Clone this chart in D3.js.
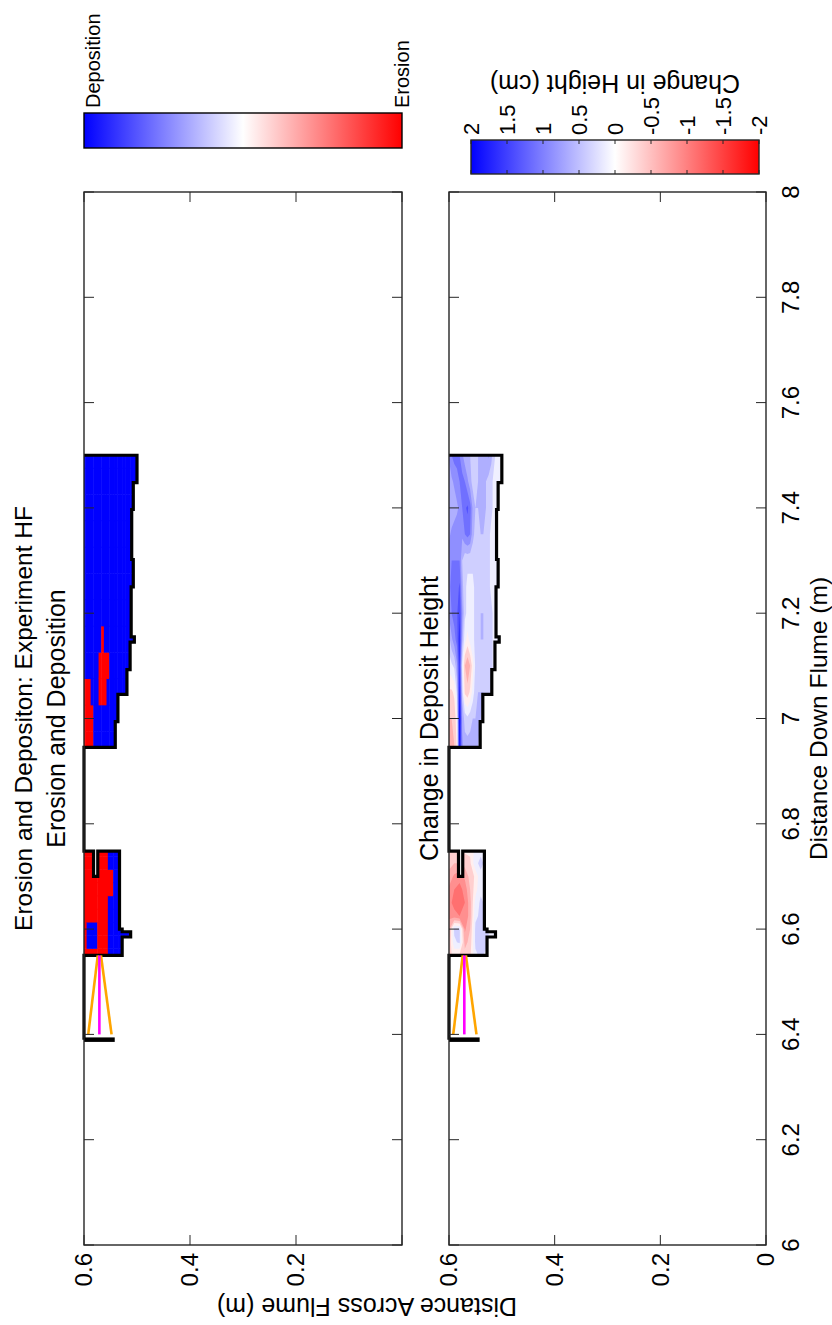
<!DOCTYPE html>
<html>
<head>
<meta charset="utf-8">
<script src="https://cdn.jsdelivr.net/npm/d3@7"></script>
<style>
  body { margin: 0; background: #fff; }
  svg { display: block; }
  text { font-family: "Liberation Sans", Arial, sans-serif; fill: #000; }
</style>
</head>
<body>
<svg id="fig" width="832" height="1325"></svg>
<script>
// ---- axis ticks ----
const downTicks = [6, 6.2, 6.4, 6.6, 6.8, 7, 7.2, 7.4, 7.6, 7.8, 8];
const downTickLabels = ["6", "6.2", "6.4", "6.6", "6.8", "7", "7.2", "7.4", "7.6", "7.8", "8"];
const acrossTicks = [0, 0.2, 0.4, 0.6];
const topAcrossLabels = [[0.6, "0.6"], [0.4, "0.4"], [0.2, "0.2"]];
const bottomAcrossLabels = [[0.6, "0.6"], [0.4, "0.4"], [0.2, "0.2"], [0, "0"]];
const colorbarTicks = [2, 1.5, 1, 0.5, 0, -0.5, -1, -1.5, -2];

// ---- downstream deposit (grid of height change, cm) ----
const deposit2Down = [6.95, 7.0, 7.05, 7.1, 7.15, 7.2, 7.25, 7.3, 7.35, 7.4, 7.45, 7.5];
const deposit2Across = [0.6, 0.595, 0.59, 0.585, 0.58, 0.575, 0.57, 0.565, 0.56, 0.555, 0.55,
                        0.545, 0.54, 0.535, 0.53, 0.525, 0.52, 0.515, 0.51, 0.505, 0.5];
const deposit2Change = [
  [-0.6, -0.5, -0.3, 0.1, 0.4, 0.8, 0.9, 0.9, 0.7, 0.5, 0.5, 0.8],
  [-0.6, -0.5, -0.3, 0.2, 0.7, 1.0, 1.1, 1.0, 0.8, 0.6, 0.7, 1.0],
  [-0.5, -0.4, -0.2, 0.3, 0.9, 1.1, 1.1, 1.0, 0.9, 0.6, 0.8, 1.1],
  [-0.2, -0.1, 0.3, 0.7, 1.1, 1.2, 1.1, 1.0, 0.9, 0.7, 0.9, 1.1],
  [1.9, 2.0, 1.8, 1.6, 1.7, 1.5, 1.3, 1.0, 0.9, 0.8, 1.0, 1.0],
  [0.8, 0.7, 0.4, 0.2, 0.6, 0.8, 0.6, 0.5, 0.8, 1.0, 1.1, 0.8],
  [0.6, 0.4, -0.3, -0.5, 0.1, 0.3, 0.3, 0.3, 1.0, 1.2, 1.0, 0.6],
  [0.6, 0.3, -0.4, -0.7, -0.1, 0.2, 0.2, 0.3, 1.1, 1.3, 0.8, 0.5],
  [0.6, 0.4, -0.2, -0.5, 0.1, 0.2, 0.2, 0.3, 1.0, 1.1, 0.6, 0.5],
  [0.5, 0.5, 0.1, -0.1, 0.2, 0.2, 0.2, 0.3, 0.6, 0.7, 0.4, 0.4],
  [0.5, 0.5, 0.4, 0.3, 0.3, 0.3, 0.3, 0.3, 0.4, 0.5, 0.3, 0.3],
  [0.5, 0.5, 0.5, 0.4, 0.4, 0.4, 0.3, 0.3, 0.4, 0.5, 0.5, 0.5],
  [0.4, 0.5, 0.5, 0.4, 0.5, 0.5, 0.3, 0.4, 0.5, 0.6, 0.6, 0.5],
  [0.3, 0.4, 0.5, 0.4, 0.5, 0.5, 0.3, 0.4, 0.5, 0.6, 0.6, 0.5],
  [0.3, 0.3, 0.4, 0.4, 0.4, 0.4, 0.3, 0.3, 0.4, 0.5, 0.5, 0.6],
  [0.2, 0.3, 0.3, 0.4, 0.4, 0.4, 0.3, 0.3, 0.3, 0.4, 0.4, 0.8],
  [0.2, 0.2, 0.3, 0.3, 0.3, 0.3, 0.2, 0.2, 0.2, 0.3, 0.3, 0.6],
  [0.1, 0.2, 0.2, 0.2, 0.2, 0.2, 0.2, 0.2, 0.2, 0.2, 0.2, 0.3],
  [0.1, 0.1, 0.1, 0.1, 0.1, 0.1, 0.1, 0.1, 0.1, 0.1, 0.1, 0.2],
  [0.1, 0.1, 0.1, 0.1, 0.1, 0.1, 0.1, 0.1, 0.1, 0.1, 0.1, 0.1],
  [0.1, 0.1, 0.1, 0.1, 0.1, 0.1, 0.1, 0.1, 0.1, 0.1, 0.1, 0.1]
];

// ---- upstream deposit ----
const deposit1Down = [6.55, 6.575, 6.6, 6.625, 6.65, 6.675, 6.7, 6.725, 6.75];
const deposit1Across = [0.6, 0.59, 0.58, 0.57, 0.56, 0.55, 0.54, 0.53, 0.52, 0.51];
const deposit1Change = [
  [-0.3, -0.5, -0.6, -0.8, -0.9, -0.8, -0.6, -0.4, -0.3],
  [-0.2, 0.2, 0.3, -0.9, -1.1, -1.0, -0.8, -0.5, -0.3],
  [-0.3, 0.3, 0.3, -1.0, -1.2, -1.1, -0.9, -0.5, -0.3],
  [-0.4, -0.6, -0.8, -1.0, -1.0, -0.9, -0.7, -0.4, -0.2],
  [-0.3, -0.4, -0.5, -0.6, -0.6, -0.5, -0.4, -0.3, -0.2],
  [0.2, 0.3, 0.3, 0.2, 0.1, -0.1, -0.2, 0.2, 0.1],
  [0.3, 0.4, 0.4, 0.3, 0.3, 0.2, 0.2, 0.3, 0.2],
  [0.2, 0.3, 0.3, 0.3, 0.2, 0.2, 0.2, 0.2, 0.1],
  [0.1, 0.2, 0.2, 0.1, 0.1, 0.1, 0.1, 0.1, 0.1],
  [0.1, 0.1, 0.1, 0.1, 0.1, 0.1, 0.1, 0.1, 0.1]
];

// ---- deposit boundaries [down, across] ----
const deposit2Edge = [[7.5, 0.6], [7.5, 0.5], [7.448, 0.5], [7.448, 0.507], [7.397, 0.507],
  [7.397, 0.510], [7.302, 0.510], [7.302, 0.507], [7.25, 0.507], [7.25, 0.511], [7.155, 0.511],
  [7.155, 0.505], [7.145, 0.505], [7.145, 0.513], [7.093, 0.513], [7.093, 0.519], [7.046, 0.519],
  [7.046, 0.536], [6.994, 0.536], [6.994, 0.541], [6.945, 0.541], [6.945, 0.6]];
const gapEdge = [[6.945, 0.6], [6.748, 0.6]];
const deposit1Edge = [[6.748, 0.6], [6.748, 0.582], [6.70, 0.582], [6.70, 0.574], [6.748, 0.574],
  [6.748, 0.533], [6.60, 0.533], [6.60, 0.528], [6.595, 0.528], [6.595, 0.512], [6.585, 0.512],
  [6.585, 0.528], [6.55, 0.528], [6.55, 0.6]];
const inletEdge = [[6.55, 0.6], [6.39, 0.6]];
const inletBar = [[6.39, 0.6], [6.39, 0.542]];
const orangeLines = [
  [[6.4, 0.592], [6.55, 0.574]],
  [[6.4, 0.548], [6.55, 0.568]]
];
const magentaLine = [[6.4, 0.571], [6.55, 0.571]];

// ---- layout (drawn landscape, then turned a quarter turn) ----
const W = 1325, H = 832;
const svg = d3.select("#fig");
const fig = svg.append("g").attr("transform", `translate(0,${W}) rotate(-90)`);

const x = d3.scaleLinear().domain([6, 8]).range([80, 1133]);
const panels = [
  { y: d3.scaleLinear().domain([0, 0.6]).range([402, 84]), labels: topAcrossLabels, showDown: false },
  { y: d3.scaleLinear().domain([0, 0.6]).range([766, 449]), labels: bottomAcrossLabels, showDown: true }
];

const colour = d3.scaleLinear().domain([-2, 0, 2]).range(["#ff0000", "#ffffff", "#0000ff"]).clamp(true);
const axisColour = "#262626";
const FS = 24;

const defs = svg.append("defs");

function linePath(pts, y) {
  return d3.line().x(d => x(d[0])).y(d => y(d[1]))(pts);
}

const deposits = [
  { down: deposit1Down, across: deposit1Across, change: deposit1Change, edge: deposit1Edge },
  { down: deposit2Down, across: deposit2Across, change: deposit2Change, edge: deposit2Edge }
];

panels.forEach((p, pi) => {
  const g = fig.append("g");
  g.append("rect").attr("x", x(6)).attr("y", p.y(0.6)).attr("width", x(8) - x(6))
    .attr("height", p.y(0) - p.y(0.6)).attr("fill", "#fff");

  deposits.forEach((dep, di) => {
    const clipId = `clip-${pi}-${di}`;
    defs.append("clipPath").attr("id", clipId).append("path")
      .attr("d", linePath(dep.edge, p.y) + "Z");
    const layer = g.append("g").attr("clip-path", `url(#${clipId})`);
    const nx = dep.down.length, ny = dep.across.length;
    const dStep = dep.down[1] - dep.down[0];
    const aStep = dep.across[1] - dep.across[0];

    if (pi === 0) {
      // erosion / deposition classes, one block per grid node
      dep.change.forEach((row, j) => {
        row.forEach((v, i) => {
          const d0 = dep.down[i] - dStep / 2, d1 = dep.down[i] + dStep / 2;
          const a0 = dep.across[j] - aStep / 2, a1 = dep.across[j] + aStep / 2;
          const fill = v > 0.05 ? "#0000ff" : (v < -0.05 ? "#ff0000" : "#ffffff");
          layer.append("rect")
            .attr("x", x(d0)).attr("width", x(d1) - x(d0) + 0.5)
            .attr("y", Math.min(p.y(a0), p.y(a1))).attr("height", Math.abs(p.y(a1) - p.y(a0)) + 0.5)
            .attr("fill", fill);
        });
      });
    } else {
      // filled contours of height change
      const levels = d3.range(-2.5, 2.26, 0.25);
      const values = [];
      for (let j = 0; j < ny; j++) for (let i = 0; i < nx; i++) values.push(dep.change[j][i]);
      const contours = d3.contours().size([nx, ny]).thresholds(levels)(values);
      const proj = d3.geoTransform({
        point(gx, gy) {
          const d = dep.down[0] + (gx - 0.5) * dStep;
          const a = dep.across[0] + (gy - 0.5) * aStep;
          this.stream.point(x(d), p.y(a));
        }
      });
      const path = d3.geoPath(proj);
      layer.selectAll("path").data(contours).join("path")
        .attr("d", path)
        .attr("fill", c => colour(c.value + 0.125));
    }
  });

  // deposit boundary
  const boundary = [...deposit2Edge, ...gapEdge.slice(1), ...deposit1Edge.slice(1), ...inletEdge.slice(1)];
  g.append("path").attr("d", linePath(boundary, p.y)).attr("fill", "none")
    .attr("stroke", "#000").attr("stroke-width", 3.2).attr("stroke-linejoin", "miter");
  g.append("path").attr("d", linePath(inletBar, p.y)).attr("fill", "none")
    .attr("stroke", "#000").attr("stroke-width", 4.5);
  orangeLines.forEach(l => g.append("path").attr("d", linePath(l, p.y)).attr("fill", "none")
    .attr("stroke", "#ffa500").attr("stroke-width", 2.6));
  g.append("path").attr("d", linePath(magentaLine, p.y)).attr("fill", "none")
    .attr("stroke", "#ff00ff").attr("stroke-width", 2.6);

  // axes box with inward ticks on all sides
  const y0 = p.y(0), y1 = p.y(0.6), tl = 10;
  downTicks.forEach(t => {
    g.append("line").attr("x1", x(t)).attr("x2", x(t)).attr("y1", y0).attr("y2", y0 - tl)
      .attr("stroke", axisColour).attr("stroke-width", 1);
    g.append("line").attr("x1", x(t)).attr("x2", x(t)).attr("y1", y1).attr("y2", y1 + tl)
      .attr("stroke", axisColour).attr("stroke-width", 1);
  });
  acrossTicks.forEach(t => {
    g.append("line").attr("x1", x(6)).attr("x2", x(6) + tl).attr("y1", p.y(t)).attr("y2", p.y(t))
      .attr("stroke", axisColour).attr("stroke-width", 1);
    g.append("line").attr("x1", x(8)).attr("x2", x(8) - tl).attr("y1", p.y(t)).attr("y2", p.y(t))
      .attr("stroke", axisColour).attr("stroke-width", 1);
  });
  g.append("rect").attr("x", x(6)).attr("y", y1).attr("width", x(8) - x(6)).attr("height", y0 - y1)
    .attr("fill", "none").attr("stroke", axisColour).attr("stroke-width", 1.4);

  p.labels.forEach(([v, s]) => {
    g.append("text").attr("x", x(6) - 8).attr("y", p.y(v)).attr("dy", "0.35em")
      .attr("text-anchor", "end").style("font-size", `${FS}px`).text(s);
  });
  if (p.showDown) {
    downTicks.forEach((t, i) => {
      g.append("text").attr("x", x(t)).attr("y", y0 + 33).attr("text-anchor", "middle")
        .style("font-size", `${FS}px`).text(downTickLabels[i]);
    });
  }
});

// titles and axis labels
fig.append("text").attr("x", x(7)).attr("y", 32).attr("text-anchor", "middle")
  .style("font-size", "24.5px").text("Erosion and Depositon: Experiment HF");
fig.append("text").attr("x", x(7)).attr("y", 65).attr("text-anchor", "middle")
  .style("font-size", "25px").text("Erosion and Deposition");
fig.append("text").attr("x", x(7)).attr("y", 438).attr("text-anchor", "middle")
  .style("font-size", "25px").text("Change in Deposit Height");
fig.append("text").attr("x", x(7)).attr("y", 827).attr("text-anchor", "middle")
  .style("font-size", "24.5px").text("Distance Down Flume (m)");
fig.append("text").attr("transform", `translate(27,367) rotate(-90)`).attr("text-anchor", "middle")
  .style("font-size", "25px").text("Distance Across Flume (m)");

// colour bars
const grad = defs.append("linearGradient").attr("id", "bwr")
  .attr("x1", 0).attr("y1", 0).attr("x2", 0).attr("y2", 1);
[2, 1, 0, -1, -2].forEach(v => grad.append("stop")
  .attr("offset", (2 - v) / 4).attr("stop-color", colour(v)));

// class colour bar
const cb1 = { x0: 1177, x1: 1212, y: d3.scaleLinear().domain([2, -2]).range([84, 402]) };
fig.append("rect").attr("x", cb1.x0).attr("y", cb1.y(2)).attr("width", cb1.x1 - cb1.x0)
  .attr("height", cb1.y(-2) - cb1.y(2)).attr("fill", "url(#bwr)").attr("stroke", "#000").attr("stroke-width", 1.4);
fig.append("text").attr("x", cb1.x1 + 5).attr("y", cb1.y(2) + 16).style("font-size", "20px").text("Deposition");
fig.append("text").attr("x", cb1.x1 + 5).attr("y", cb1.y(-2) + 7).style("font-size", "20px").text("Erosion");

// height change colour bar
const cb2 = { x0: 1151, x1: 1185, y: d3.scaleLinear().domain([2, -2]).range([471, 759]) };
fig.append("rect").attr("x", cb2.x0).attr("y", cb2.y(2)).attr("width", cb2.x1 - cb2.x0)
  .attr("height", cb2.y(-2) - cb2.y(2)).attr("fill", "url(#bwr)");
colorbarTicks.forEach(t => {
  fig.append("line").attr("x1", cb2.x0).attr("x2", cb2.x0 + 4).attr("y1", cb2.y(t)).attr("y2", cb2.y(t))
    .attr("stroke", axisColour);
  fig.append("line").attr("x1", cb2.x1).attr("x2", cb2.x1 - 4).attr("y1", cb2.y(t)).attr("y2", cb2.y(t))
    .attr("stroke", axisColour);
  fig.append("text").attr("x", cb2.x1 + 5).attr("y", cb2.y(t)).attr("dy", "0.35em")
    .style("font-size", "22px").text(String(t));
});
fig.append("rect").attr("x", cb2.x0).attr("y", cb2.y(2)).attr("width", cb2.x1 - cb2.x0)
  .attr("height", cb2.y(-2) - cb2.y(2)).attr("fill", "none").attr("stroke", axisColour).attr("stroke-width", 1.4);
fig.append("text").attr("transform", `translate(1250,${cb2.y(0)}) rotate(-90)`).attr("text-anchor", "middle")
  .style("font-size", "25px").text("Change in Height (cm)");
</script>
</body>
</html>
